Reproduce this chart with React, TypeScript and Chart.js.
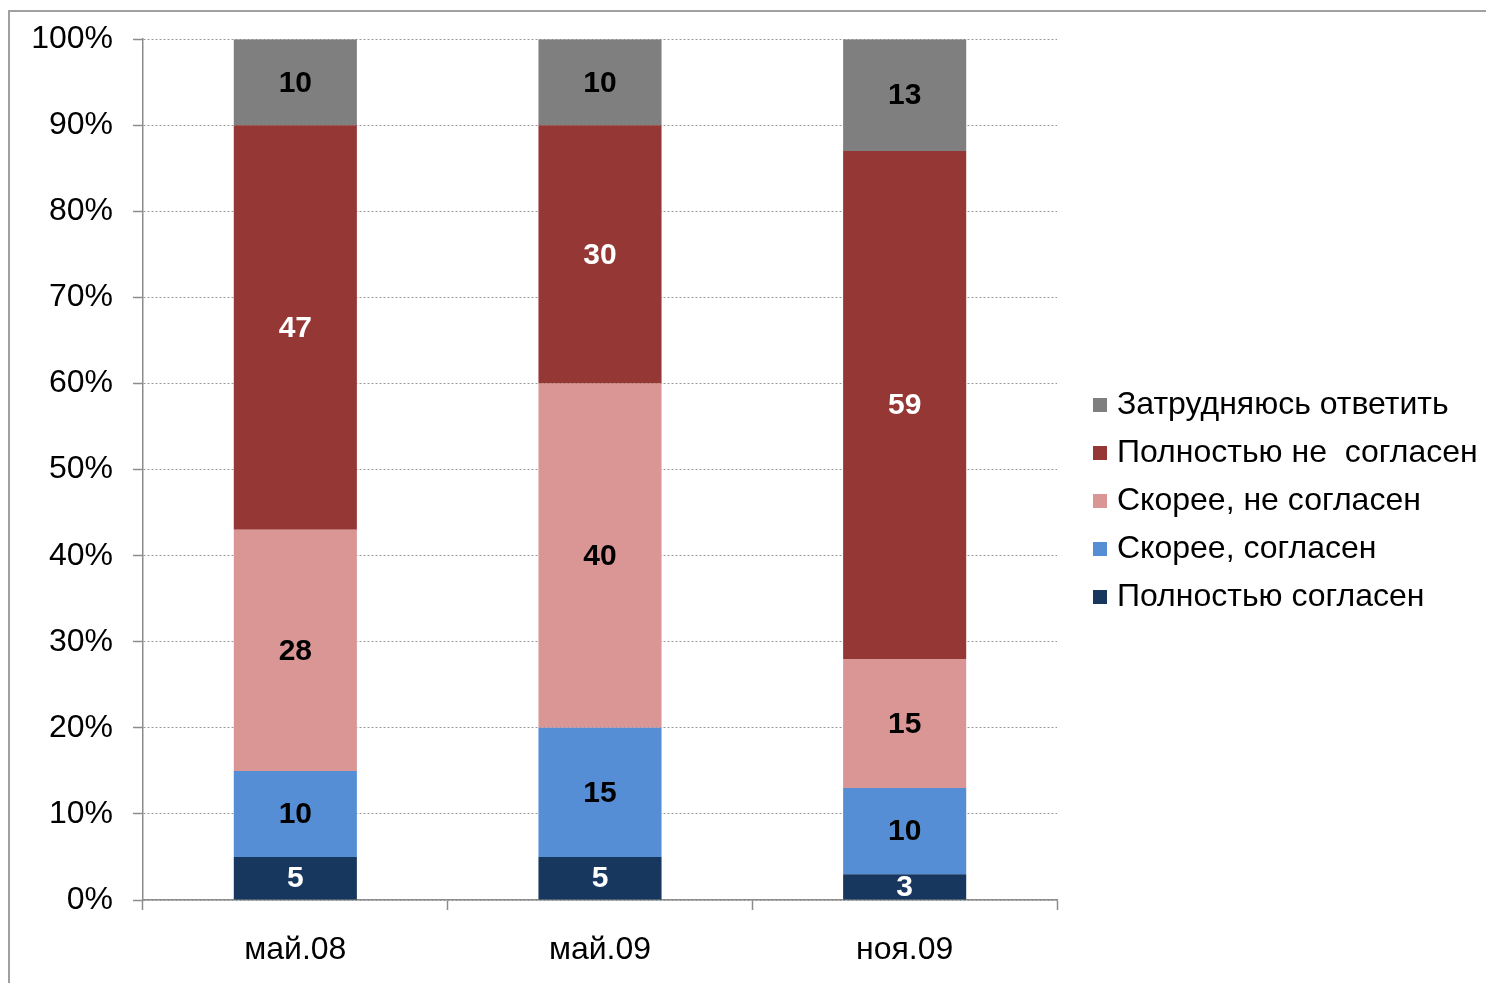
import React, { useEffect, useRef } from "react";
import { Chart, registerables } from "chart.js";

Chart.register(...registerables);

const categories = ["май.08", "май.09", "ноя.09"];
const seriesNames = [
  "Полностью согласен",
  "Скорее, согласен",
  "Скорее, не согласен",
  "Полностью не  согласен",
  "Затрудняюсь ответить",
];
const fullyAgree = [5, 5, 3];
const ratherAgree = [10, 15, 10];
const ratherDisagree = [28, 40, 15];
const fullyDisagree = [47, 30, 59];
const hardToSay = [10, 10, 13];
const seriesValues = [fullyAgree, ratherAgree, ratherDisagree, fullyDisagree, hardToSay];
const seriesColors = ["#17375E", "#558ED5", "#D99694", "#953735", "#7F7F7F"];
const labelColors = ["#ffffff", "#000000", "#000000", "#ffffff", "#000000"];
const yTicks = [0, 10, 20, 30, 40, 50, 60, 70, 80, 90, 100];

const FONT = "'Liberation Sans', Arial, sans-serif";
const SLOT = 28;
const LEGEND_WIDTH = 429;

function makeLegendImage(color: string) {
  const c = document.createElement("canvas");
  c.width = SLOT + 12;
  c.height = 14;
  const g = c.getContext("2d")!;
  g.fillStyle = color;
  g.fillRect(c.width - 14, 0, 14, 14);
  return c;
}

const legendWidthPlugin = {
  id: "legendWidth",
  beforeLayout(chart: any) {
    const lg = chart.legend;
    if (lg && !lg.__patched) {
      const orig = lg.fit;
      lg.fit = function () {
        orig.call(this);
        this.width = LEGEND_WIDTH;
      };
      lg.__patched = true;
    }
  },
};

const framePlugin = {
  id: "frame",
  beforeDraw(chart: any) {
    const ctx = chart.ctx;
    ctx.save();
    ctx.fillStyle = "#ffffff";
    ctx.fillRect(0, 0, chart.width, chart.height);
    ctx.strokeStyle = "#a0a0a0";
    ctx.lineWidth = 2;
    ctx.beginPath();
    ctx.moveTo(9, chart.height);
    ctx.lineTo(9, 11);
    ctx.lineTo(chart.width, 11);
    ctx.stroke();
    ctx.restore();
  },
};

const valueLabelPlugin = {
  id: "valueLabels",
  afterDatasetsDraw(chart: any) {
    const ctx = chart.ctx;
    ctx.save();
    ctx.font = `bold 30px ${FONT}`;
    ctx.textAlign = "center";
    ctx.textBaseline = "middle";
    chart.data.datasets.forEach((ds: any, di: number) => {
      const meta = chart.getDatasetMeta(di);
      meta.data.forEach((el: any, i: number) => {
        const { x, y, base } = el.getProps(["x", "y", "base"], true);
        ctx.fillStyle = labelColors[di];
        ctx.fillText(String(ds.data[i]), x, (y + base) / 2 + 1);
      });
    });
    ctx.restore();
  },
};

export default function App() {
  const ref = useRef<HTMLCanvasElement | null>(null);

  useEffect(() => {
    document.body.style.margin = "0";
    document.body.style.overflow = "hidden";
    const images = seriesColors.map(makeLegendImage);
    const chart = new Chart(ref.current!, {
      type: "bar",
      data: {
        labels: categories,
        datasets: seriesNames.map((name, i) => ({
          label: name,
          data: seriesValues[i],
          backgroundColor: seriesColors[i],
          borderWidth: 0,
          barPercentage: 0.404,
          categoryPercentage: 1,
        })),
      },
      options: {
        animation: false,
        responsive: false,
        devicePixelRatio: 1,
        layout: { padding: { left: 8, top: 39, right: 0, bottom: 0 } },
        plugins: {
          tooltip: { enabled: false },
          legend: {
            position: "right",
            fullSize: false,
            reverse: true,
            align: "center",
            title: { display: true, text: "", padding: { top: 51, bottom: 0 }, font: { size: 10 } },
            labels: {
              usePointStyle: true,
              pointStyleWidth: SLOT,
              boxHeight: 14,
              padding: 16,
              color: "#000000",
              font: { family: FONT, size: 32 },
              generateLabels: (ch: any) =>
                ch.data.datasets.map((ds: any, i: number) => ({
                  text: ds.label,
                  fillStyle: ds.backgroundColor,
                  strokeStyle: ds.backgroundColor,
                  lineWidth: 0,
                  hidden: false,
                  datasetIndex: i,
                  pointStyle: images[i],
                  fontColor: "#000000",
                })),
            },
          },
        },
        scales: {
          x: {
            stacked: true,
            afterFit: (s: any) => {
              s.height = 83;
            },
            grid: {
              display: true,
              drawOnChartArea: false,
              drawTicks: true,
              offset: true,
              tickLength: 10,
              tickColor: "#8c8c8c",
              tickWidth: 1.5,
            },
            border: { display: true, color: "#8c8c8c", width: 1.5 },
            ticks: { color: "#000000", font: { family: FONT, size: 32 }, padding: 21 },
          },
          y: {
            stacked: true,
            min: 0,
            max: 100,
            afterFit: (s: any) => {
              s.width = 135;
            },
            afterBuildTicks: (s: any) => {
              s.ticks = yTicks.map((v) => ({ value: v }));
            },
            grid: {
              color: "#999999",
              lineWidth: 1,
              tickLength: 10,
              tickColor: "#8c8c8c",
              tickWidth: 1.5,
              tickBorderDash: [],
            },
            border: { display: true, color: "#8c8c8c", width: 1.5, dash: [2, 2] },
            ticks: {
              color: "#000000",
              font: { family: FONT, size: 32 },
              padding: 20,
              callback: (v: any) => `${v}%`,
            },
          },
        },
      },
      plugins: [legendWidthPlugin, framePlugin, valueLabelPlugin],
    });
    return () => chart.destroy();
  }, []);

  return (
    <div style={{ width: 1486, height: 983 }}>
      <canvas ref={ref} width={1486} height={983} style={{ display: "block" }} />
    </div>
  );
}
